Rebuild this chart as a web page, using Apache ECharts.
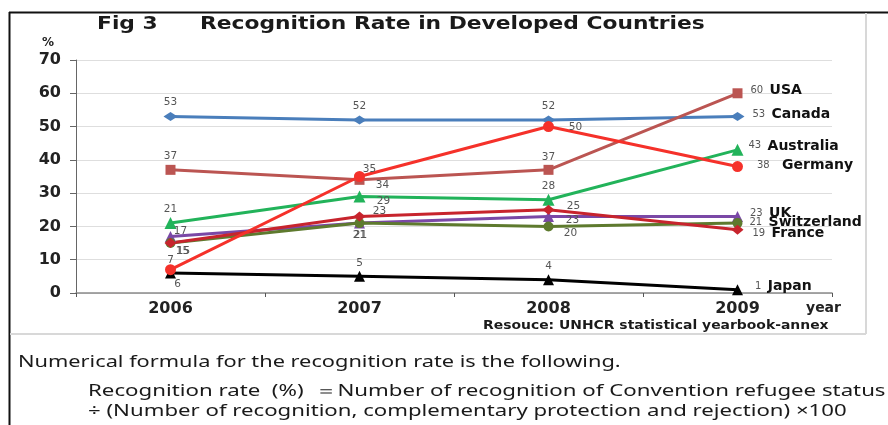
<!DOCTYPE html>
<html>
<head>
<meta charset="utf-8">
<script src="https://cdn.jsdelivr.net/npm/echarts@6/dist/echarts.min.js"></script>
<style>
  html, body { margin: 0; padding: 0; background: #fff; }
  #chart { width: 888px; height: 425px; }
</style>
</head>
<body>
<div id="chart"></div>
<script>
// Recognition rate (%) of Convention refugee status, 2006-2009
const years = ['2006', '2007', '2008', '2009'];
const yTicks = [0, 10, 20, 30, 40, 50, 60, 70];

const canada      = [53, 52, 52, 53];
const usa         = [37, 34, 37, 60];
const australia   = [21, 29, 28, 43];
const uk          = [17, 21, 23, 23];
const switzerland = [15, 21, 20, 21];
const france      = [15, 23, 25, 19];
const japan       = [6, 5, 4, 1];
const germany     = [7, 35, 50, 38];

const countryNames = ['Canada', 'USA', 'Australia', 'UK', 'Switzerland', 'France', 'Japan', 'Germany'];

// per-point label offsets (label centre relative to point), last point gets the name tag
const labelOffsets = {
  Canada:      [[0, -14], [0, -14], [0, -14], [0, -2]],
  USA:         [[0, -14], [23, 5], [0, -13], [0, -3]],
  Australia:   [[0, -14], [24, 5], [0, -14], [-3, -4]],
  UK:          [[10, -5], [0, 12], [24, 4], [-1, -3]],
  Switzerland: [[13, 8], [1, 12], [22, 7], [-1, -1]],
  France:      [[12, 8], [20, -5], [25, -4], [1, 4]],
  Japan:       [[7, 11], [0, -13], [0, -13], [4, -3]],
  Germany:     [[0, -9], [10, -7], [27, 1], [6, -1]]
};
// extra gap between the end value and the country name
const nameGap = { Germany: 6 };

const styles = {
  Canada:      { color: '#4a7ebb', symbol: 'diamond',  size: [14, 9] },
  USA:         { color: '#bb5552', symbol: 'rect',     size: 10 },
  Australia:   { color: '#22b35a', symbol: 'triangle', size: 12 },
  UK:          { color: '#7a48a6', symbol: 'triangle', size: 11 },
  Switzerland: { color: '#5e7a2e', symbol: 'circle',   size: 10 },
  France:      { color: '#c7242d', symbol: 'diamond',  size: [12, 10] },
  Japan:       { color: '#000000', symbol: 'triangle', size: 11 },
  Germany:     { color: '#f5312a', symbol: 'circle',   size: 11 }
};

const seriesValues = {
  Canada: canada, USA: usa, Australia: australia, UK: uk,
  Switzerland: switzerland, France: france, Japan: japan, Germany: germany
};

const numFont = 'DejaVu Sans';

function buildSeries(name) {
  const vals = seriesValues[name];
  const st = styles[name];
  const offs = labelOffsets[name];
  const last = vals.length - 1;
  const data = vals.map((v, i) => {
    if (i === last) {
      return {
        value: v,
        label: {
          show: true,
          position: 'right',
          distance: 8,
          offset: offs[i],
          formatter: '{v|' + v + '} {n|' + name + '}',
          rich: {
            v: { fontFamily: numFont, fontSize: 10, color: '#555', padding: [0, 3 + (nameGap[name] || 0), 0, 0] },
            n: { fontFamily: numFont, fontSize: 14, fontWeight: 'bold', color: '#111' }
          }
        }
      };
    }
    return {
      value: v,
      label: {
        show: true,
        position: 'inside',
        offset: offs[i],
        formatter: String(v),
        fontFamily: numFont,
        fontSize: 10.5,
        color: '#555'
      }
    };
  });
  return {
    name: name,
    type: 'line',
    data: data,
    symbol: st.symbol,
    symbolSize: st.size,
    showAllSymbol: true,
    lineStyle: { color: st.color, width: 3 },
    itemStyle: { color: st.color, borderWidth: 0 },
    emphasis: { disabled: true },
    animation: false,
    z: 3
  };
}

// left-anchored text that is stretched horizontally to the wide face used in the figure
function wideText(x, y, text, font, size, weight, sx) {
  return {
    type: 'text', x: x, y: y, scaleX: sx, scaleY: 1, originX: 0, originY: 0,
    style: { text: text, fontFamily: font, fontSize: size, fontWeight: weight, fill: '#1a1a1a', textVerticalAlign: 'middle', textAlign: 'left' }
  };
}

const chart = echarts.init(document.getElementById('chart'), null, { renderer: 'canvas' });

const axisFont = { fontFamily: numFont, fontWeight: 'bold', color: '#222' };

chart.setOption({
  backgroundColor: '#ffffff',
  animation: false,
  grid: { left: 76, right: 56, top: 60, bottom: 132, containLabel: false },
  xAxis: {
    type: 'category',
    data: years,
    boundaryGap: true,
    axisLine: { show: true, lineStyle: { color: '#8a8a8a', width: 1.5 } },
    axisTick: { show: true, length: 4, lineStyle: { color: '#555' } },
    axisLabel: Object.assign({ fontSize: 16, margin: 8 }, axisFont),
    splitLine: { show: false }
  },
  yAxis: {
    type: 'value',
    min: yTicks[0],
    max: yTicks[yTicks.length - 1],
    interval: 10,
    axisLine: { show: true, lineStyle: { color: '#666', width: 1 } },
    axisTick: { show: true, length: 6, lineStyle: { color: '#666' } },
    axisLabel: Object.assign({ fontSize: 16, margin: 15 }, axisFont),
    splitLine: { show: true, lineStyle: { color: '#dedede', width: 1 } }
  },
  series: countryNames.map(buildSeries),
  graphic: [
    // outer frame (top and left rules)
    { type: 'line', shape: { x1: 9, y1: 12.5, x2: 888, y2: 12.5 }, style: { stroke: '#111', lineWidth: 2 } },
    { type: 'line', shape: { x1: 9.5, y1: 12, x2: 9.5, y2: 425 }, style: { stroke: '#111', lineWidth: 2 } },
    // chart panel border (right and bottom)
    { type: 'line', shape: { x1: 866, y1: 13, x2: 866, y2: 334 }, style: { stroke: '#d8d8d8', lineWidth: 2 } },
    { type: 'line', shape: { x1: 10, y1: 334, x2: 866, y2: 334 }, style: { stroke: '#d8d8d8', lineWidth: 2 } },
    // title
    wideText(97, 24, 'Fig 3', numFont, 18, 'bold', 1.21),
    wideText(200, 24, 'Recognition Rate in Developed Countries', numFont, 18, 'bold', 1.21),
    // unit and axis caption
    { type: 'text', left: 42, top: 37, style: { text: '%', fontFamily: numFont, fontSize: 12, fontWeight: 'bold', fill: '#222' } },
    { type: 'text', left: 806, top: 301, style: { text: 'year', fontFamily: numFont, fontSize: 14, fontWeight: 'bold', fill: '#222' } },
    // source
    wideText(483, 326, 'Resouce: UNHCR statistical yearbook-annex', numFont, 11.5, 'bold', 1.21),
    // formula note
    wideText(18, 362, 'Numerical formula for the recognition rate is the following.', 'Noto Sans', 16, 'normal', 1.36),
    wideText(88, 391, 'Recognition rate\u00a0 (%) \u00a0\uff1dNumber of recognition of Convention refugee status', 'Noto Sans', 16, 'normal', 1.39),
    wideText(88, 411, '\u00f7 (Number of recognition, complementary protection and rejection) \u00d7100', 'Noto Sans', 16, 'normal', 1.386)
  ]
});
</script>
</body>
</html>
